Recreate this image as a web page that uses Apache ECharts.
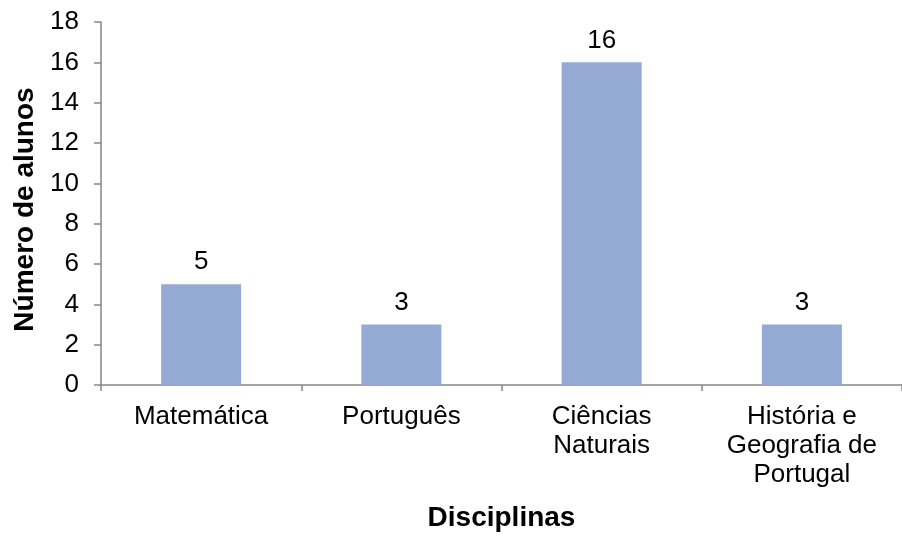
<!DOCTYPE html>
<html>
<head>
<meta charset="utf-8">
<script src="https://cdn.jsdelivr.net/npm/echarts@6/dist/echarts.min.js"></script>
<style>
  html, body { margin: 0; padding: 0; background: #ffffff; }
  #chart { width: 902px; height: 537px; }
</style>
</head>
<body>
<div id="chart"></div>
<script>
// Disciplinas e número de alunos
const categories = ['Matemática', 'Português', 'Ciências\nNaturais', 'História e\nGeografia de\nPortugal'];
const alunos = [5, 3, 16, 3];
const yTicks = { min: 0, max: 18, interval: 2 };

const FONT = '"Liberation Sans", Arial, sans-serif';
const AXIS_GRAY = '#868686';

const chart = echarts.init(document.getElementById('chart'));
chart.setOption({
  animation: false,
  backgroundColor: '#ffffff',
  grid: { left: 101, top: 22, width: 804, height: 364, containLabel: false },
  xAxis: {
    type: 'category',
    data: categories,
    name: 'Disciplinas',
    nameLocation: 'middle',
    nameGap: 119,
    nameTextStyle: { fontFamily: FONT, fontSize: 28, fontWeight: 'bold', color: '#000' },
    axisLine: { lineStyle: { color: AXIS_GRAY, width: 1.5 } },
    axisTick: { show: true, length: 6, alignWithLabel: false, lineStyle: { color: AXIS_GRAY, width: 1.5 } },
    axisLabel: { fontFamily: FONT, fontSize: 26, color: '#000', margin: 17, lineHeight: 29, interval: 0 }
  },
  yAxis: {
    type: 'value',
    min: yTicks.min,
    max: yTicks.max,
    interval: yTicks.interval,
    name: 'Número de alunos',
    nameLocation: 'middle',
    nameGap: 58,
    nameTextStyle: { fontFamily: FONT, fontSize: 28, fontWeight: 'bold', color: '#000', padding: [0, 12, 0, 0] },
    axisLine: { show: true, lineStyle: { color: AXIS_GRAY, width: 1.5 } },
    axisTick: { show: true, length: 7, lineStyle: { color: AXIS_GRAY, width: 1.5 } },
    axisLabel: { fontFamily: FONT, fontSize: 26, color: '#000', margin: 22 },
    splitLine: { show: false }
  },
  series: [{
    type: 'bar',
    data: alunos,
    barWidth: 80,
    itemStyle: { color: '#95AAD2' },
    label: {
      show: true,
      position: 'top',
      distance: 9,
      fontFamily: FONT,
      fontSize: 26,
      color: '#000'
    }
  }]
});
</script>
</body>
</html>
